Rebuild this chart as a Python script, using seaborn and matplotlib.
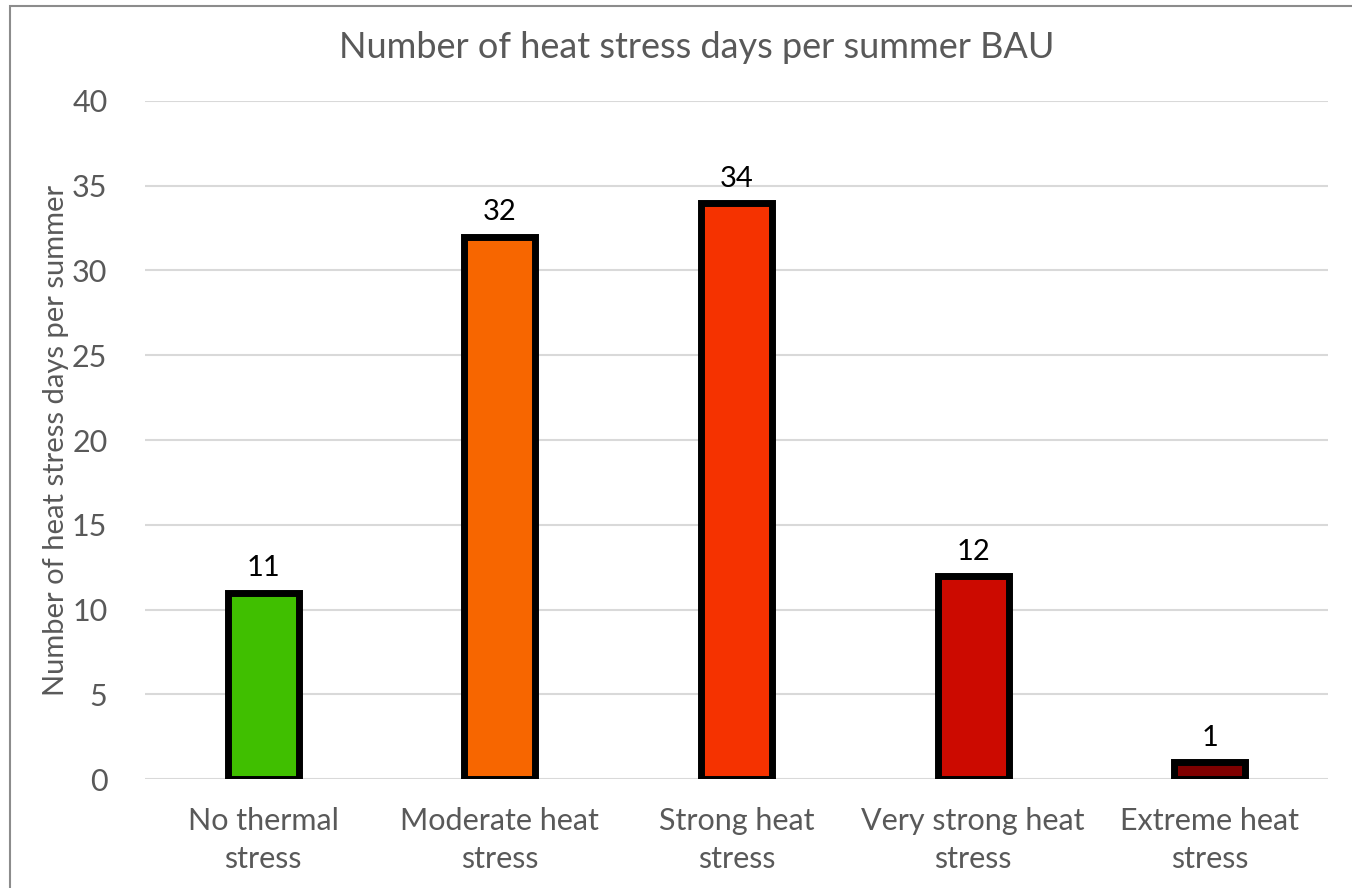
import matplotlib
matplotlib.use("Agg")
import matplotlib.pyplot as plt
import seaborn as sns
import pandas as pd
from matplotlib.patches import Rectangle

categories = ["No thermal\nstress", "Moderate heat\nstress", "Strong heat\nstress",
              "Very strong heat\nstress", "Extreme heat\nstress"]
days = [11, 32, 34, 12, 1]
colors = ["#40BF00", "#F76600", "#F53200", "#CC0A00", "#7F0000"]
y_ticks = [0, 5, 10, 15, 20, 25, 30, 35, 40]

title = "Number of heat stress days per summer BAU"
y_label = "Number of heat stress days per summer"

sns.set_theme(style="white")
plt.rcParams["font.family"] = ["Lato", "DejaVu Sans"]

text_gray = "#595959"

df = pd.DataFrame({"category": categories, "days": days})

fig = plt.figure(figsize=(13.52, 8.88), dpi=100)
ax = fig.add_axes([0.1072, 0.1227, 0.875, 0.7636])

sns.barplot(data=df, x="category", y="days", hue="category", palette=colors,
            legend=False, width=0.3, edgecolor="black", linewidth=5,
            saturation=1, ax=ax, zorder=3)

ax.set_xlim(-0.5, 4.5)
ax.set_ylim(0, 40)
ax.set_yticks(y_ticks)
ax.yaxis.grid(True, color="#D9D9D9", linewidth=1.5, zorder=0)
ax.set_axisbelow(True)
for s in ax.spines.values():
    s.set_visible(False)
ax.tick_params(axis="both", length=0, labelsize=22, colors=text_gray)
ax.tick_params(axis="x", pad=20)
ax.tick_params(axis="y", pad=27)
for lbl in ax.get_xticklabels():
    lbl.set_linespacing(1.45)
ax.set_xlabel("")
ax.set_ylabel(y_label, fontsize=21, color=text_gray)
ax.yaxis.set_label_coords(-0.064, 0.5)

for container in ax.containers:
    ax.bar_label(container, fmt="%d", padding=8, fontsize=21, color="black")

fig.text(0.515, 0.946, title, ha="center", va="center", fontsize=26, color=text_gray)

# outer chart frame
fig.patches.append(Rectangle((0.0075, -0.01), 1.0, 1.0033, transform=fig.transFigure,
                             fill=False, edgecolor="#8C8C8C", linewidth=1.5))

fig.savefig("out.png", dpi=100, facecolor="white")
